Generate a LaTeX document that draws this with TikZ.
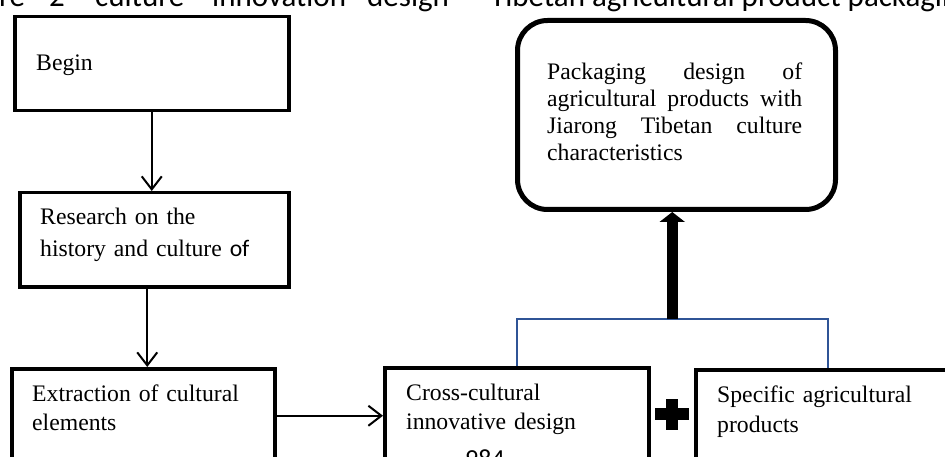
\documentclass[tikz,border=0pt]{standalone}
\usepackage{fontspec}
\setmainfont{Liberation Serif}
\newfontfamily\calibrifont{Carlito}
\definecolor{bracketblue}{RGB}{47, 84, 150}
\usepackage{tikz}
\usetikzlibrary{arrows.meta, positioning, calc}

\tikzset{
  flowbox/.style={draw, line width=3.5pt, inner sep=0pt, anchor=north west},
  flowtext/.style={inner sep=0pt, anchor=base west, text width=232pt, align=left},
  flowarrow/.style={line width=2pt, -{Straight Barb[length=13pt, width=20pt]}},
  captiontext/.style={inner sep=0pt, anchor=base west, font=\calibrifont\fontsize{31}{36}\selectfont}
}

\begin{document}
\begin{tikzpicture}[x=1pt, y=-1pt]
\path[use as bounding box] (0,0) rectangle (945,457);
\clip (0,0) rectangle (945,457);

\node[captiontext] (cap1) at (-1,7) {re\hspace{24pt}2};
\node[captiontext] (cap2) at (95,7) {culture};
\node[captiontext] (cap3) at (212,7) {innovation};
\node[captiontext] (cap4) at (367,7) {design};
\node[captiontext] (cap5) at (490,7) {Tibetan agricultural product packaging};

\node[flowbox, minimum width=274pt, minimum height=94pt] (begin) at (13,15) {};
\node[flowtext, font=\fontsize{23.7}{30}\selectfont] (begintext) at ([shift={(23,56)}]begin.north west) {Begin};

\node[flowbox, minimum width=269pt, minimum height=94pt] (research) at (18,191) {};
\node[flowtext, font=\fontsize{23.7}{32}\selectfont] (researchtext) at ([shift={(22,34)}]research.north west)
  {Research on the\\history and culture {\calibrifont of}};

\node[flowbox, minimum width=263pt, minimum height=94pt] (extract) at (10,367) {};
\node[flowtext, font=\fontsize{23.7}{29}\selectfont] (extracttext) at ([shift={(22,34)}]extract.north west)
  {Extraction of cultural\\elements};

\node[flowbox, minimum width=264pt, minimum height=96pt] (cross) at (383,366) {};
\node[flowtext, font=\fontsize{23.7}{29}\selectfont] (crosstext) at ([shift={(23,34)}]cross.north west)
  {Cross-cultural\\innovative design};

\node[flowbox, minimum width=264pt, minimum height=94pt] (specific) at (694,368) {};
\node[flowtext, font=\fontsize{23.7}{30}\selectfont] (specifictext) at ([shift={(23,34)}]specific.north west)
  {Specific agricultural\\products};

\node[flowbox, line width=5pt, rounded corners=30pt, minimum width=318pt, minimum height=189pt] (pack) at (515,18) {};
\node[flowtext, text width=255pt, align=justify, font=\fontsize{23.7}{26.7}\selectfont] (packtext) at ([shift={(32,62)}]pack.north west)
  {Packaging design of\linebreak agricultural products with\linebreak Jiarong Tibetan culture\linebreak characteristics};

\draw[flowarrow] (begin.south) -- (begin.south |- research.north);
\draw[flowarrow] ([xshift=-7pt]research.south) -- ([xshift=-7pt]research.south |- extract.north);
\draw[flowarrow] (extract.east) -- (cross.west);

\coordinate (joint) at ($(cross.north)!0.5!(specific.north) + (0,-48)$);
\draw[bracketblue, line width=2pt] (cross.north) |- (joint) -| (specific.north);
\draw[line width=11pt, -{Triangle[length=10pt, width=25pt]}] (joint) -- (joint |- pack.south);

\coordinate (plus) at ($(cross.east)!0.5!(specific.west) + (0,-2)$);
\fill ([shift={(-17,-6)}]plus) rectangle ++(34,12);
\fill ([shift={(-6,-15.5)}]plus) rectangle ++(12,31);

\node[inner sep=0pt, anchor=north west, font=\calibrifont\fontsize{26}{30}\selectfont] (pageno) at (465,450) {984};
\end{tikzpicture}
\end{document}
